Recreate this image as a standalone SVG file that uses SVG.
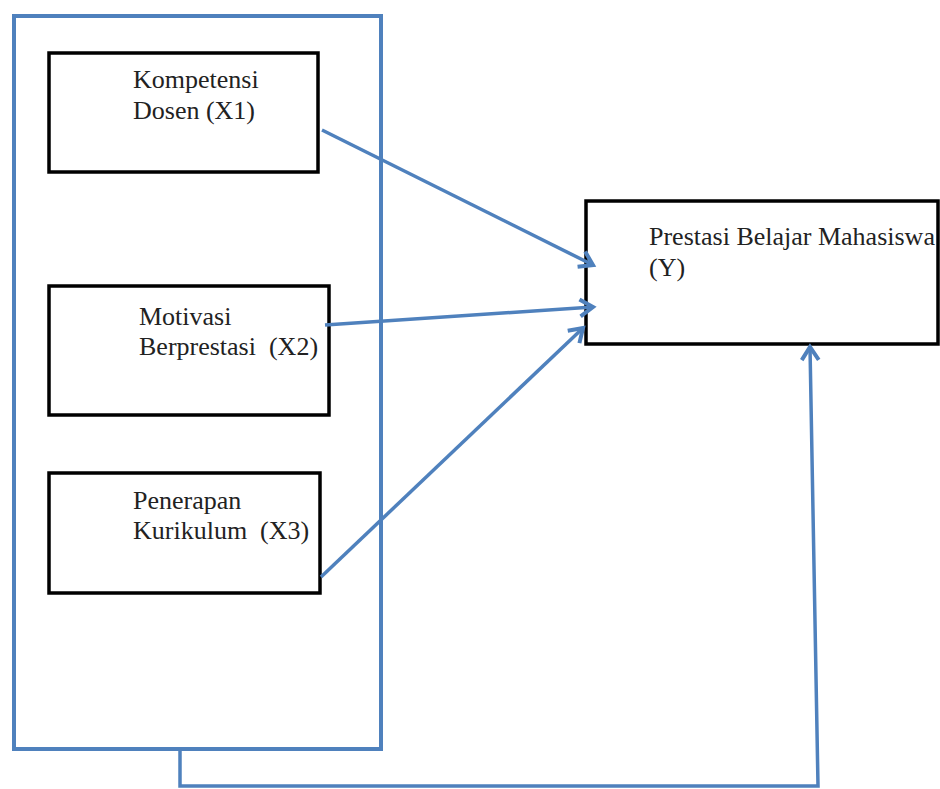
<svg xmlns="http://www.w3.org/2000/svg" width="940" height="789" viewBox="0 0 940 789">
<defs>
<style>
.node{fill:#fff;stroke:#000;stroke-width:3.5}
.frame{fill:none;stroke:#4F81BD;stroke-width:4}
.conn{fill:none;stroke:#4F81BD;stroke-width:3.5}
.t{font-family:"Liberation Serif","Times New Roman",serif;font-size:26px;fill:#222;white-space:pre}
</style>
<marker id="ah" markerUnits="userSpaceOnUse" markerWidth="22" markerHeight="22" viewBox="0 0 22 22" refX="18" refY="11" orient="auto">
<path d="M5,2.5 L18,11 L5,19.5" fill="none" stroke="#4F81BD" stroke-width="4" stroke-linejoin="miter"/>
</marker>
</defs>
<rect id="group-frame" class="frame" x="14" y="16" width="367" height="733"/>
<g id="x1">
<rect class="node" x="49" y="53" width="269" height="119"/>
<text class="t" x="133" y="88">Kompetensi</text>
<text class="t" x="133" y="119">Dosen (X1)</text>
</g>
<g id="x2">
<rect class="node" x="49" y="286" width="280" height="129"/>
<text class="t" x="139" y="325">Motivasi</text>
<text class="t" x="139" y="355" xml:space="preserve">Berprestasi  (X2)</text>
</g>
<g id="x3">
<rect class="node" x="49" y="473" width="271" height="120"/>
<text class="t" x="133" y="509">Penerapan</text>
<text class="t" x="133" y="539" xml:space="preserve">Kurikulum  (X3)</text>
</g>
<g id="y">
<rect class="node" x="586" y="201" width="352" height="143"/>
<text class="t" x="649" y="245">Prestasi Belajar Mahasiswa</text>
<text class="t" x="649" y="276">(Y)</text>
</g>
<g id="connectors">
<line class="conn" x1="322" y1="130" x2="593" y2="265" marker-end="url(#ah)"/>
<line class="conn" x1="325" y1="325" x2="593" y2="307" marker-end="url(#ah)"/>
<line class="conn" x1="321" y1="577" x2="583" y2="328" marker-end="url(#ah)"/>
<polyline class="conn" points="180,749 180,786 818,786 810,347" marker-end="url(#ah)"/>
</g>
</svg>
